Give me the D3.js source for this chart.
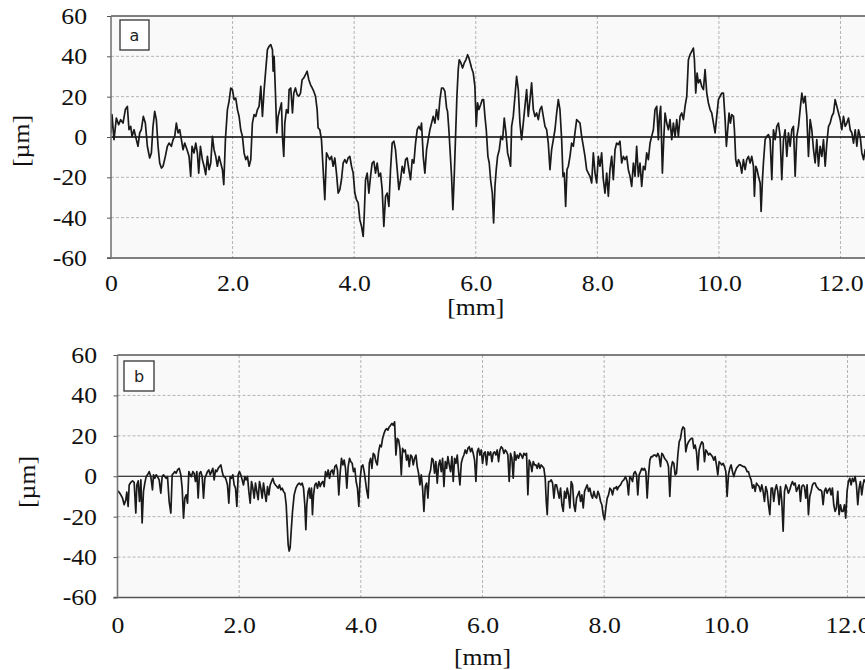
<!DOCTYPE html>
<html><head><meta charset="utf-8">
<script src="https://cdn.jsdelivr.net/npm/d3@7"></script>
<style>body{margin:0;background:#fff}svg{display:block}</style>
</head><body><svg id="c" width="865" height="670"></svg>
<script>
const xTicks=[0,2,4,6,8,10,12];
const xTickLabels=["0","2.0","4.0","6.0","8.0","10.0","12.0"];
const yTicks=[-60,-40,-20,0,20,40,60];
const yTickLabels=["-60","-40","-20","0","20","40","60"];
const xTitle="[mm]", yTitle="[\u00b5m]";
const panelNames=["a","b"];

// profile a: [mm, µm]
const profileA=[[0,2],[0.016,11.1],[0.049,-1.3],[0.088,9.4],[0.126,6.1],[0.159,8.6],[0.198,6.9],[0.236,13.6],[0.269,15.2],[0.296,3.6],[0.324,5.3],[0.346,0.3],[0.379,3.6],[0.417,-1.3],[0.444,-4.6],[0.472,2.0],[0.499,3.6],[0.532,10.2],[0.565,6.9],[0.598,-4.6],[0.636,-10.4],[0.664,-7.9],[0.691,5.3],[0.719,12.7],[0.746,8.6],[0.774,-4.6],[0.801,-12.9],[0.829,-15.4],[0.856,-14.5],[0.894,-9.6],[0.927,-4.6],[0.955,-3.0],[0.993,-4.6],[1.021,-1.3],[1.048,0.3],[1.075,6.9],[1.103,2.0],[1.130,3.6],[1.158,-1.3],[1.185,-6.3],[1.213,-3.0],[1.251,-6.3],[1.284,-9.6],[1.311,-19.5],[1.333,-4.6],[1.366,-7.9],[1.394,-3.0],[1.421,-7.9],[1.443,-17.9],[1.471,-4.6],[1.503,-11.2],[1.531,-14.5],[1.558,-18.7],[1.586,-9.6],[1.613,-16.2],[1.641,-12.9],[1.668,0.3],[1.695,-6.3],[1.723,-9.6],[1.750,-14.5],[1.778,-9.6],[1.805,-12.9],[1.833,-16.2],[1.855,-23.6],[1.882,-1.3],[1.915,13.6],[1.942,17.7],[1.970,24.3],[1.997,23.5],[2.025,18.5],[2.052,19.3],[2.080,13.6],[2.107,10.2],[2.134,3.6],[2.162,0.3],[2.189,-7.9],[2.217,-11.2],[2.244,-9.6],[2.272,-14.5],[2.299,-11.2],[2.326,6.9],[2.354,11.1],[2.381,10.2],[2.409,13.6],[2.436,15.2],[2.464,25.1],[2.491,10.2],[2.519,23.5],[2.546,33.4],[2.573,43.3],[2.601,45.0],[2.628,45.8],[2.656,43.3],[2.667,32.6],[2.683,40.0],[2.705,21.8],[2.727,2.0],[2.749,10.2],[2.776,13.6],[2.804,16.9],[2.820,0.3],[2.842,-9.6],[2.859,6.9],[2.886,13.6],[2.914,11.9],[2.930,23.5],[2.957,24.3],[2.985,11.9],[3.007,21.8],[3.034,24.3],[3.062,21.0],[3.089,20.2],[3.117,21.8],[3.144,28.4],[3.172,29.3],[3.199,30.9],[3.226,32.6],[3.254,28.4],[3.281,26.0],[3.309,24.3],[3.336,22.6],[3.364,20.2],[3.391,13.6],[3.407,4.5],[3.435,3.6],[3.462,-1.3],[3.490,-16.2],[3.517,-31.1],[3.545,-7.9],[3.572,-9.6],[3.599,-11.2],[3.627,-9.6],[3.654,-14.5],[3.682,-10.4],[3.709,-17.9],[3.737,-27.8],[3.764,-26.1],[3.791,-21.2],[3.819,-12.9],[3.846,-11.2],[3.874,-12.9],[3.901,-10.4],[3.929,-9.6],[3.956,-14.5],[3.984,-17.9],[4.011,-27.8],[4.038,-31.1],[4.066,-32.7],[4.093,-41.0],[4.121,-44.3],
[4.148,-49.3],[4.165,-39.3],[4.187,-21.2],[4.214,-17.9],[4.242,-27.8],[4.269,-19.5],[4.296,-12.9],[4.324,-12.1],[4.351,-17.9],[4.379,-12.9],[4.406,-19.5],[4.434,-17.9],[4.461,-26.1],[4.488,-44.3],[4.516,-29.4],[4.543,-27.8],[4.571,-34.4],[4.598,-16.2],[4.625,-3.0],[4.653,-2.1],[4.680,-6.3],[4.708,-16.2],[4.735,-26.1],[4.763,-21.2],[4.790,-14.5],[4.818,-17.9],[4.845,-11.2],[4.872,-10.4],[4.900,-16.2],[4.927,-21.2],[4.955,-11.2],[4.982,-12.9],[5.010,-3.0],[5.037,3.6],[5.064,5.3],[5.092,3.6],[5.108,6.9],[5.136,-9.6],[5.163,-17.9],[5.191,-6.3],[5.218,-1.3],[5.246,3.6],[5.273,6.9],[5.300,10.2],[5.328,6.9],[5.355,13.6],[5.383,8.6],[5.410,18.5],[5.438,24.3],[5.465,24.3],[5.492,22.6],[5.520,14.4],[5.536,12.7],[5.558,3.6],[5.580,-7.9],[5.602,-19.5],[5.624,-36.0],[5.646,-19.5],[5.668,0.3],[5.690,20.2],[5.712,33.4],[5.728,38.3],[5.756,36.7],[5.783,34.2],[5.811,36.7],[5.838,38.3],[5.866,40.8],[5.888,39.2],[5.910,36.7],[5.931,34.2],[5.959,31.7],[5.986,25.1],[6.008,5.3],[6.030,16.9],[6.052,13.6],[6.080,16.0],[6.107,18.5],[6.129,18.5],[6.151,10.2],[6.173,3.6],[6.200,-9.6],[6.222,-12.9],[6.244,-21.2],[6.272,-27.8],[6.294,-42.6],[6.316,-24.5],[6.337,-16.2],[6.359,-9.6],[6.387,-6.3],[6.414,0.3],[6.442,-1.3],[6.469,9.4],[6.497,2.0],[6.524,-7.9],[6.551,-11.2],[6.573,-14.5],[6.590,5.3],[6.617,10.2],[6.645,20.2],[6.672,30.1],[6.700,23.5],[6.727,6.9],[6.754,-1.3],[6.782,6.9],[6.809,15.2],[6.837,23.5],[6.864,10.2],[6.892,18.5],[6.919,26.8],[6.947,13.6],[6.974,10.2],[7.001,11.9],[7.029,8.6],[7.056,13.6],[7.084,15.2],[7.111,10.2],[7.139,5.3],[7.166,3.6],[7.193,-3.0],[7.221,-16.2],[7.248,-6.3],[7.276,-1.3],[7.303,3.6],[7.331,11.9],[7.358,18.5],[7.385,13.6],[7.413,-1.3],[7.435,-19.5],[7.457,-17.9],[7.479,-34.4],[7.501,-16.2],[7.523,-14.5],[7.550,-9.6],[7.577,-3.0],[7.605,-4.6],[7.632,2.0],[7.660,8.6],[7.687,7.8],[7.715,6.9],[7.742,0.3],[7.770,-4.6],[7.797,-9.6],[7.824,-16.2],[7.852,-17.9],[7.879,-19.5],[7.907,-22.8],[7.934,-7.9],[7.962,-17.9],[7.989,-22.8],[8.016,-9.6],[8.044,-14.5],[8.071,-7.9],[8.099,-21.2],[8.126,-27.8],[8.154,-17.9],[8.181,-29.4],[8.208,-16.2],[8.236,-9.6],
[8.263,-21.2],[8.291,-6.3],[8.318,-3.0],[8.346,-3.8],[8.373,-2.1],[8.400,-12.9],[8.428,-9.6],[8.455,-11.2],[8.483,-9.6],[8.510,-16.2],[8.538,-19.5],[8.565,-24.5],[8.593,-12.9],[8.620,-19.5],[8.647,-4.6],[8.675,-19.5],[8.702,-12.9],[8.730,-24.5],[8.757,-14.5],[8.785,-16.2],[8.812,-7.9],[8.839,-11.2],[8.867,-3.0],[8.894,0.3],[8.922,3.6],[8.949,13.6],[8.977,15.2],[9.004,-1.3],[9.021,10.2],[9.042,15.2],[9.070,-17.9],[9.092,-1.3],[9.114,11.9],[9.141,6.9],[9.169,3.6],[9.196,8.6],[9.224,-1.3],[9.251,6.9],[9.279,0.3],[9.306,8.6],[9.333,0.3],[9.361,10.2],[9.388,11.9],[9.416,8.6],[9.443,15.2],[9.471,20.2],[9.498,38.3],[9.525,40.8],[9.553,42.5],[9.580,44.1],[9.597,38.3],[9.619,21.8],[9.641,31.7],[9.663,26.8],[9.690,28.4],[9.717,25.1],[9.745,23.5],[9.772,33.4],[9.800,21.8],[9.827,16.9],[9.855,13.6],[9.882,11.9],[9.910,6.9],[9.937,2.0],[9.964,10.2],[9.992,18.5],[10.019,20.2],[10.047,21.8],[10.074,21.8],[10.102,8.6],[10.123,-4.6],[10.145,3.6],[10.167,11.9],[10.189,6.9],[10.211,11.1],[10.239,10.2],[10.255,3.6],[10.277,-11.2],[10.299,-14.5],[10.321,-11.2],[10.348,-12.9],[10.376,-17.9],[10.403,-11.2],[10.431,-16.2],[10.458,-11.2],[10.486,-9.6],[10.513,-12.9],[10.540,-9.6],[10.568,-14.5],[10.584,-29.4],[10.606,-14.5],[10.628,-16.2],[10.650,-19.5],[10.678,-22.8],[10.694,-36.9],[10.716,-21.2],[10.732,-12.9],[10.760,-1.3],[10.787,0.3],[10.815,1.2],[10.842,-1.3],[10.870,-21.2],[10.897,3.6],[10.925,-1.3],[10.952,5.3],[10.979,6.9],[11.007,0.3],[11.034,-21.2],[11.062,-1.3],[11.089,3.6],[11.117,-9.6],[11.144,2.0],[11.172,-4.6],[11.199,3.6],[11.226,5.3],[11.254,-19.5],[11.281,0.3],[11.309,5.3],[11.336,13.6],[11.364,21.8],[11.391,16.9],[11.418,20.2],[11.446,10.2],[11.473,-9.6],[11.501,8.6],[11.528,3.6],[11.556,-6.3],[11.583,-12.9],[11.610,-1.3],[11.638,-14.5],[11.665,-4.6],[11.693,-9.6],[11.720,-1.3],[11.748,-14.5],[11.775,-3.0],[11.803,5.3],[11.830,6.9],[11.857,10.2],[11.885,11.9],[11.912,18.5],[11.940,15.2],[11.967,11.9],[11.995,8.6],[12.022,3.6],[12.049,10.2],[12.077,5.3],[12.104,6.9],[12.132,9.4],[12.159,3.6],[12.187,2.0],[12.214,-3.0],[12.242,3.6],[12.269,-4.6],[12.296,3.6],[12.324,0.3],[12.351,-7.9],[12.379,-11.2],[12.406,-6.3],[12.45,-8]];

// profile b: [mm, µm]
const profileB=[[0.000,-7.2],[0.027,-7.9],[0.055,-9.2],[0.082,-10.8],[0.110,-14.1],[0.137,-11.6],[0.153,-7.9],[0.175,-14.9],[0.192,-4.3],[0.219,-3.0],[0.247,-2.3],[0.274,-3.0],[0.301,-18.2],[0.318,-4.3],[0.340,-2.3],[0.362,-12.5],[0.384,-1.8],[0.405,-23.1],[0.427,-7.5],[0.449,-3.4],[0.471,-0.2],[0.493,0.7],[0.521,2.3],[0.548,-0.2],[0.575,-6.7],[0.592,0.7],[0.614,-1.0],[0.636,0.7],[0.658,-0.2],[0.685,-1.8],[0.712,-8.4],[0.734,-0.2],[0.756,0.7],[0.778,-0.2],[0.800,-1.0],[0.822,-0.2],[0.849,-12.5],[0.877,-18.2],[0.899,0.7],[0.921,1.5],[0.942,2.3],[0.964,1.5],[0.986,3.1],[1.014,3.9],[1.041,0.7],[1.063,-5.9],[1.085,-20.7],[1.107,-10.8],[1.129,-9.2],[1.151,-13.3],[1.173,2.3],[1.195,0.7],[1.216,-0.2],[1.238,2.3],[1.260,1.5],[1.282,-2.6],[1.304,2.3],[1.326,-10.8],[1.348,1.5],[1.370,2.3],[1.392,-0.2],[1.414,-10.8],[1.436,-1.0],[1.458,0.7],[1.479,2.3],[1.501,3.1],[1.523,0.7],[1.545,2.3],[1.567,3.9],[1.589,-1.8],[1.611,3.1],[1.633,2.3],[1.655,3.9],[1.677,4.8],[1.699,5.6],[1.721,2.3],[1.742,-0.2],[1.764,-0.2],[1.786,-1.8],[1.808,-4.3],[1.830,-13.3],[1.852,-0.2],[1.874,-1.0],[1.896,0.7],[1.918,-4.3],[1.940,-5.9],[1.962,-14.9],[1.984,0.7],[2.005,2.3],[2.027,0.7],[2.049,-1.8],[2.071,-4.3],[2.093,-0.2],[2.115,-1.8],[2.137,-0.2],[2.159,-7.5],[2.181,-13.3],[2.203,-2.6],[2.225,-5.9],[2.247,-10.8],[2.268,-3.4],[2.290,-7.5],[2.312,-11.6],[2.334,-2.6],[2.356,-5.9],[2.378,-10.8],[2.400,-3.4],[2.422,-8.4],[2.444,-12.5],[2.466,-5.1],[2.488,-9.2],[2.510,-4.3],[2.532,-2.6],[2.553,-1.0],[2.575,-3.4],[2.597,-4.3],[2.619,-5.1],[2.641,-5.9],[2.663,-4.3],[2.685,-6.7],[2.707,-5.9],[2.729,-7.5],[2.751,-8.4],[2.773,-14.1],[2.789,-23.9],[2.805,-33.8],[2.822,-37.0],[2.838,-35.4],[2.855,-27.2],[2.877,-17.4],[2.904,-9.2],[2.932,-5.9],[2.959,-4.3],[2.986,-3.4],[3.014,-4.3],[3.036,-3.4],[3.058,-5.9],[3.079,-14.1],[3.096,-26.4],[3.112,-14.1],[3.134,-7.5],[3.151,-5.9],[3.167,-10.8],[3.189,-5.9],[3.205,-19.0],[3.222,-9.2],[3.244,-4.3],[3.266,-3.4],[3.288,-5.9],[3.310,-2.6],[3.332,-5.1],[3.353,-3.4],[3.375,-2.6],[3.397,-5.1],[3.419,2.3],[3.441,-0.2],[3.463,3.1],[3.485,-1.0],[3.507,2.3],[3.529,3.1],[3.551,0.7],[3.573,4.8],[3.595,5.6],[3.616,3.1],[3.638,-9.2],[3.660,1.5],[3.682,8.9],[3.704,5.6],[3.726,8.0],[3.748,3.9],[3.770,-5.9],[3.792,4.8],[3.814,8.9],[3.836,7.2],[3.858,6.4],[3.879,2.3],[3.901,3.9],[3.923,-2.6],[3.945,-5.9],[3.967,-14.9],[3.989,-1.0],[4.011,4.8],[4.033,5.6],[4.055,2.3],[4.077,-2.6],[4.099,-7.5],[4.121,-10.8],
[4.139,6.4],[4.161,8.9],[4.182,3.9],[4.204,11.3],[4.226,10.5],[4.248,7.2],[4.270,5.6],[4.292,12.1],[4.314,15.4],[4.336,14.6],[4.358,18.7],[4.380,21.1],[4.402,22.8],[4.424,23.6],[4.445,22.8],[4.467,24.4],[4.489,25.2],[4.511,26.1],[4.533,25.2],[4.555,26.9],[4.577,10.5],[4.599,18.7],[4.621,17.9],[4.643,13.8],[4.665,0.7],[4.686,13.8],[4.708,12.1],[4.730,13.0],[4.752,8.0],[4.774,10.5],[4.796,4.8],[4.818,10.5],[4.840,9.7],[4.862,5.6],[4.884,8.9],[4.906,10.5],[4.927,4.8],[4.949,1.5],[4.971,-4.3],[4.993,0.7],[5.015,-5.9],[5.037,-17.4],[5.059,-5.1],[5.081,-3.4],[5.103,-10.8],[5.125,0.7],[5.147,3.1],[5.169,8.9],[5.190,8.0],[5.212,1.5],[5.234,7.2],[5.256,-3.4],[5.278,5.6],[5.300,8.0],[5.322,2.3],[5.344,8.9],[5.366,-5.1],[5.388,7.2],[5.410,3.9],[5.431,9.7],[5.453,5.6],[5.475,2.3],[5.497,9.7],[5.519,-2.6],[5.541,8.9],[5.563,6.4],[5.585,10.5],[5.607,2.3],[5.629,-4.3],[5.651,6.4],[5.672,8.9],[5.694,10.5],[5.716,13.0],[5.738,11.3],[5.760,13.8],[5.782,14.6],[5.804,12.1],[5.826,13.8],[5.848,11.3],[5.870,8.0],[5.892,-2.6],[5.914,12.1],[5.935,13.8],[5.957,10.5],[5.979,13.0],[6.001,6.4],[6.023,11.3],[6.045,12.1],[6.067,5.6],[6.089,12.1],[6.111,10.5],[6.133,12.1],[6.155,7.2],[6.176,11.3],[6.198,12.1],[6.220,10.5],[6.242,13.0],[6.264,7.2],[6.286,13.0],[6.308,14.6],[6.330,13.8],[6.352,11.3],[6.374,13.0],[6.396,12.1],[6.417,10.5],[6.439,-2.6],[6.461,11.3],[6.483,8.9],[6.505,-1.0],[6.527,12.1],[6.549,8.0],[6.571,10.5],[6.593,8.9],[6.615,11.3],[6.637,10.5],[6.659,8.9],[6.680,11.3],[6.702,10.5],[6.724,11.3],[6.746,-9.2],[6.768,8.0],[6.790,6.4],[6.812,2.3],[6.834,7.2],[6.856,5.6],[6.878,5.6],[6.900,3.9],[6.922,6.4],[6.943,3.9],[6.965,5.6],[6.987,4.8],[7.009,3.9],[7.031,-1.0],[7.048,-12.5],[7.064,-19.0],[7.086,-2.6],[7.108,-2.6],[7.130,-1.8],[7.152,-3.4],[7.174,-10.8],[7.195,-4.3],[7.217,-4.3],[7.239,-7.5],[7.261,-10.8],[7.283,-5.9],[7.305,-14.1],[7.327,-17.4],[7.349,-7.5],[7.371,-10.8],[7.393,-5.9],[7.415,-9.2],[7.436,-15.7],[7.458,-2.6],[7.480,-4.3],[7.502,-14.1],[7.524,-17.4],[7.546,-10.8],[7.568,-9.2],[7.590,-7.5],[7.612,-12.5],[7.634,-9.2],[7.656,-15.7],[7.678,-7.5],[7.699,-5.9],[7.721,-4.3],[7.743,-7.5],[7.765,-5.9],[7.787,-9.2],[7.809,-10.8],[7.831,-7.5],[7.853,-10.0],[7.875,-10.8],[7.897,-7.5],[7.919,-9.2],[7.941,-12.5],[7.962,-14.1],[7.984,-19.0],[8.006,-21.5],[8.028,-15.7],[8.050,-10.8],[8.072,-9.2],[8.094,-5.9],[8.116,-6.7],[8.138,-9.2],[8.160,-5.9],[8.182,-5.9],[8.204,-5.1],
[8.214,-6.7],[8.241,-5.1],[8.269,-4.3],[8.296,-2.6],[8.323,-1.8],[8.351,-0.2],[8.378,-2.6],[8.400,-9.2],[8.422,-0.2],[8.444,-1.0],[8.466,-2.6],[8.488,1.5],[8.510,2.3],[8.532,0.7],[8.553,-9.2],[8.575,0.7],[8.597,2.3],[8.619,3.9],[8.641,3.1],[8.663,3.9],[8.685,2.3],[8.707,-10.8],[8.729,0.7],[8.751,8.0],[8.773,9.7],[8.794,9.7],[8.816,10.5],[8.838,10.5],[8.860,9.7],[8.882,11.3],[8.904,9.7],[8.926,4.8],[8.948,11.3],[8.970,10.5],[8.992,8.9],[9.014,8.0],[9.035,7.2],[9.057,4.8],[9.079,-10.0],[9.101,3.9],[9.123,7.2],[9.145,6.4],[9.167,0.7],[9.189,1.5],[9.211,10.5],[9.233,17.0],[9.255,18.7],[9.276,22.8],[9.298,24.4],[9.320,23.6],[9.342,12.1],[9.364,15.4],[9.386,17.0],[9.408,17.9],[9.430,18.7],[9.452,18.7],[9.474,13.8],[9.496,15.4],[9.518,12.1],[9.539,3.1],[9.561,13.0],[9.583,15.4],[9.605,17.0],[9.627,16.2],[9.649,7.2],[9.671,13.0],[9.693,12.1],[9.715,10.5],[9.737,11.3],[9.759,10.5],[9.780,9.7],[9.802,8.0],[9.824,9.7],[9.846,5.6],[9.868,0.7],[9.890,7.2],[9.912,6.4],[9.934,5.6],[9.956,6.4],[9.978,4.8],[10.000,2.3],[10.021,-10.0],[10.043,0.7],[10.065,3.9],[10.087,5.6],[10.109,2.3],[10.131,-0.2],[10.153,2.3],[10.175,3.9],[10.197,4.8],[10.219,5.6],[10.241,5.6],[10.263,5.2],[10.284,4.8],[10.306,4.8],[10.328,3.9],[10.350,2.3],[10.372,2.3],[10.394,-0.2],[10.416,-1.8],[10.438,-5.9],[10.460,-4.3],[10.482,-7.5],[10.504,-3.4],[10.525,-4.3],[10.547,-5.1],[10.569,-7.5],[10.591,-4.3],[10.613,-7.5],[10.635,-12.5],[10.657,-5.1],[10.679,-7.5],[10.701,-14.1],[10.723,-19.0],[10.745,-5.9],[10.766,-5.9],[10.788,-12.5],[10.810,-6.7],[10.832,-4.3],[10.854,-7.5],[10.876,-14.1],[10.898,-5.1],[10.920,-12.5],[10.942,-27.2],[10.964,-7.5],[10.986,-4.3],[11.007,-5.9],[11.029,-8.4],[11.051,-6.7],[11.073,-4.3],[11.095,-2.6],[11.117,-4.3],[11.139,-3.4],[11.161,-7.5],[11.183,-5.9],[11.205,-4.3],[11.227,-12.5],[11.248,-5.1],[11.270,-4.3],[11.292,-5.1],[11.314,-10.8],[11.336,-4.3],[11.358,-19.0],[11.380,-10.0],[11.402,-7.5],[11.424,-4.3],[11.446,-3.4],[11.468,-3.4],[11.489,-5.1],[11.512,-5.9],[11.533,-6.7],[11.555,-6.7],[11.577,-7.5],[11.599,-14.1],[11.621,-7.5],[11.643,-5.9],[11.665,-8.4],[11.687,-6.7],[11.709,-5.9],[11.730,-9.2],[11.752,-5.9],[11.774,-14.1],[11.796,-17.4],[11.818,-15.7],[11.840,-7.5],[11.862,-19.0],[11.884,-14.1],[11.906,-17.4],[11.928,-17.4],[11.950,-14.1],[11.971,-20.7],[11.993,-7.5],[12.015,-2.6],[12.037,-1.0],[12.059,-4.3],[12.081,-1.0],[12.103,-2.6],[12.125,-0.2],[12.147,-4.3],[12.169,-14.1],[12.191,-5.9],[12.212,-2.6],[12.234,-9.2],[12.256,-4.3],[12.273,-1.8],[12.30,-3]];

const svg=d3.select("#c");
const W=865;
const SX=1.12; // horizontal stretch of the serif labels
// layout (pixels)
const layout=[
  {name:panelNames[0],data:profileA,x0:111,x12:840.5,top:16,bottom:258,lblRight:87,tickY:291,titleY:315,yTitleX:21,yTitleY:141,box:[120,20,29,30]},
  {name:panelNames[1],data:profileB,x0:117.5,x12:847.5,top:355,bottom:597.5,lblRight:97,tickY:633,titleY:665,yTitleX:27,yTitleY:482,box:[124,361,30,30]}
];
const FONT='"Liberation Serif", serif';

layout.forEach((p,pi)=>{
  const x=d3.scaleLinear().domain([0,12]).range([p.x0,p.x12]);
  const y=d3.scaleLinear().domain([-60,60]).range([p.bottom,p.top]);
  const g=svg.append("g");
  const clipId="clip"+pi;
  svg.append("defs").append("clipPath").attr("id",clipId)
    .append("rect").attr("x",p.x0).attr("y",p.top).attr("width",W-p.x0).attr("height",p.bottom-p.top);
  g.append("rect").attr("x",p.x0).attr("y",p.top).attr("width",W-p.x0).attr("height",p.bottom-p.top).attr("fill","#f9f9f9");
  // grid
  g.selectAll(".vg").data(xTicks.filter(d=>d>0)).join("line")
    .attr("x1",d=>x(d)).attr("x2",d=>x(d)).attr("y1",p.top).attr("y2",p.bottom)
    .attr("stroke","#b4b4b4").attr("stroke-width",1).attr("stroke-dasharray","3,2");
  g.selectAll(".hg").data(yTicks.filter(d=>d!==0&&Math.abs(d)<60)).join("line")
    .attr("x1",p.x0).attr("x2",W).attr("y1",d=>y(d)).attr("y2",d=>y(d))
    .attr("stroke","#b4b4b4").attr("stroke-width",1).attr("stroke-dasharray","3,2");
  // zero line
  g.append("line").attr("x1",p.x0).attr("x2",W).attr("y1",y(0)).attr("y2",y(0))
    .attr("stroke","#000").attr("stroke-width",pi===0?1.6:1.1);
  // profile
  const line=d3.line().x(d=>x(d[0])).y(d=>y(d[1]));
  g.append("path").datum(p.data).attr("clip-path","url(#"+clipId+")")
    .attr("d",line).attr("fill","none").attr("stroke","#1a1a1a").attr("stroke-width",1.7).attr("stroke-linejoin","round");
  // frame
  g.append("line").attr("x1",p.x0).attr("x2",W).attr("y1",p.top).attr("y2",p.top).attr("stroke","#555").attr("stroke-width",1.6);
  g.append("line").attr("x1",p.x0-4).attr("x2",W).attr("y1",p.bottom).attr("y2",p.bottom).attr("stroke","#555").attr("stroke-width",1.6);
  // y axis
  const ya=d3.axisLeft(y).tickValues(yTicks).tickSize(4).tickFormat((d,i)=>yTickLabels[i]);
  const yg=g.append("g").attr("transform",`translate(${p.x0},0)`).call(ya);
  yg.attr("font-family",null).attr("font-size",null);
  yg.select(".domain").attr("stroke","#777").attr("stroke-width",1.6).attr("d",`M0,${p.top}V${p.bottom}`);
  yg.selectAll(".tick line").attr("stroke","#555");
  yg.selectAll("text").attr("x",0).attr("text-anchor","end")
    .attr("transform",`translate(${p.lblRight-p.x0},0) scale(${SX},1)`)
    .style("font-family",FONT).style("font-size","23px").attr("fill","#111");
  // x axis labels
  const xa=d3.axisBottom(x).tickValues(xTicks).tickSize(0).tickPadding(0).tickFormat((d,i)=>xTickLabels[i]);
  const xg=g.append("g").attr("transform",`translate(0,${p.tickY})`).call(xa);
  xg.attr("font-family",null).attr("font-size",null);
  xg.select(".domain").remove();
  xg.selectAll("text").attr("dy",0).attr("y",0).attr("transform",`scale(${SX},1)`)
    .style("font-family",FONT).style("font-size","23px").attr("fill","#111");
  // titles
  g.append("text").attr("transform",`translate(${x(6)},${p.titleY}) scale(${SX},1)`).attr("text-anchor","middle")
    .style("font-family",FONT).style("font-size","23px").attr("fill","#111").text(xTitle);
  g.append("text").attr("transform",`translate(${p.yTitleX},${p.yTitleY}) rotate(-90) scale(${SX},1)`).attr("text-anchor","middle")
    .attr("dy","0.35em").style("font-family",FONT).style("font-size","23px").attr("fill","#111").text(yTitle);
  // panel label box
  g.append("rect").attr("x",p.box[0]).attr("y",p.box[1]).attr("width",p.box[2]).attr("height",p.box[3])
    .attr("fill","#fff").attr("stroke","#333").attr("stroke-width",1.3);
  g.append("text").attr("x",p.box[0]+p.box[2]/2).attr("y",p.box[1]+p.box[3]/2).attr("dy","0.35em")
    .attr("text-anchor","middle").style("font-family",'"DejaVu Sans", sans-serif').style("font-size","16px").attr("fill","#222").text(p.name);
});
</script></body></html>
